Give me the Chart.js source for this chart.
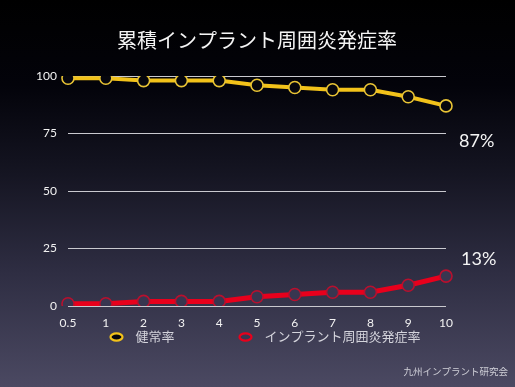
<!DOCTYPE html>
<html lang="ja">
<head>
<meta charset="utf-8">
<script src="https://cdn.jsdelivr.net/npm/chart.js@4"></script>
<style>
  html, body { margin: 0; padding: 0; }
  body {
    width: 515px;
    height: 387px;
    background: linear-gradient(to bottom, #000000 0%, #03030a 22%, #151522 45%, #2e2d42 70%, #4b4962 100%);
    overflow: hidden;
  }
  #wrap { position: relative; width: 515px; height: 387px; }
</style>
</head>
<body>
<div id="wrap"><canvas id="chart"></canvas></div>
<script>
const years = ['0.5', '1', '2', '3', '4', '5', '6', '7', '8', '9', '10']
const healthyRate = [99, 99, 98, 98, 98, 96, 95, 94, 94, 91, 87]
const periRate = [1, 1, 2, 2, 2, 4, 5, 6, 6, 9, 13]
const yTicks = [0, 25, 50, 75, 100]
const seriesNames = ['健常率', 'インプラント周囲炎発症率']
const endLabels = ['87%', '13%']

const FONT = 'Lato, "Noto Sans CJK JP", sans-serif'
Chart.defaults.font.family = FONT
Chart.defaults.color = '#f2f2f2'

// end-of-line labels and the credit line, plain text
const slideText = {
  id: 'slideText',
  afterDraw(chart) {
    const { ctx } = chart
    ctx.save()
    ctx.fillStyle = '#f4f4f4'
    ctx.font = '18px ' + FONT
    ctx.textAlign = 'left'
    ctx.textBaseline = 'middle'
    ctx.fillText(endLabels[0], 459, 141)
    ctx.fillText(endLabels[1], 461, 259)
    ctx.fillStyle = '#d0d0d8'
    ctx.font = '9.5px ' + FONT
    ctx.textAlign = 'right'
    ctx.fillText('九州インプラント研究会', 508, 372)
    ctx.restore()
  },
}

const en = '\u2002'
new Chart(document.getElementById('chart'), {
  type: 'line',
  data: {
    labels: years,
    datasets: [
      {
        label: seriesNames[0],
        data: healthyRate,
        borderColor: '#f2c21a',
        borderWidth: 4,
        pointRadius: 6,
        pointBorderWidth: 1.6,
        pointBorderColor: '#e9c435',
        pointBackgroundColor: '#06060d',
        tension: 0,
      },
      {
        label: seriesNames[1],
        data: periRate,
        borderColor: '#e8001c',
        borderWidth: 5,
        pointRadius: 6,
        pointBorderWidth: 1.6,
        pointBorderColor: '#b8102e',
        pointBackgroundColor: '#383650',
        tension: 0,
      },
    ],
  },
  options: {
    responsive: true,
    maintainAspectRatio: false,
    animation: false,
    layout: { padding: { left: 16, right: 0, top: 0, bottom: 33.5 } },
    plugins: {
      title: {
        display: true,
        text: '累積インプラント周囲炎発症率',
        fullSize: false,
        color: '#f4f4f4',
        font: { size: 20, weight: 'normal', family: FONT },
        padding: { top: 30, bottom: 22 },
      },
      legend: {
        display: true,
        position: 'bottom',
        fullSize: true,
        labels: {
          color: '#d4d4dc',
          font: { size: 13 },
          padding: 0,
          usePointStyle: true,
          pointStyleWidth: 12,
          boxHeight: 5,
          generateLabels(chart) {
            return chart.data.datasets.map((ds, i) => ({
              text: (i === 0 ? en + seriesNames[i] + en.repeat(10) : en + seriesNames[i]),
              fillStyle: ds.pointBackgroundColor,
              strokeStyle: ds.borderColor,
              lineWidth: 2.2,
              pointStyle: 'circle',
              fontColor: '#d4d4dc',
              datasetIndex: i,
            }))
          },
        },
      },
      tooltip: { enabled: false },
    },
    scales: {
      x: {
        offset: false,
        afterFit(scale) { scale.height = 24.5 },
        grid: { display: false, drawTicks: false },
        border: { display: false },
        ticks: { color: '#f2f2f2', font: { size: 12 }, padding: 10, maxRotation: 0, autoSkip: false },
      },
      y: {
        min: 0,
        max: 100,
        afterFit(scale) { scale.width = 52 },
        afterBuildTicks(scale) { scale.ticks = yTicks.map((v) => ({ value: v })) },
        grid: { color: '#c9c9cf', lineWidth: 1, drawTicks: false },
        border: { display: false },
        ticks: { color: '#f2f2f2', font: { size: 12 }, padding: 11 },
      },
      y2: {
        position: 'right',
        display: true,
        afterFit(scale) { scale.width = 69 },
        grid: { display: false, drawTicks: false },
        border: { display: false },
        ticks: { display: false },
      },
    },
  },
  plugins: [slideText],
})
</script>
</body>
</html>
